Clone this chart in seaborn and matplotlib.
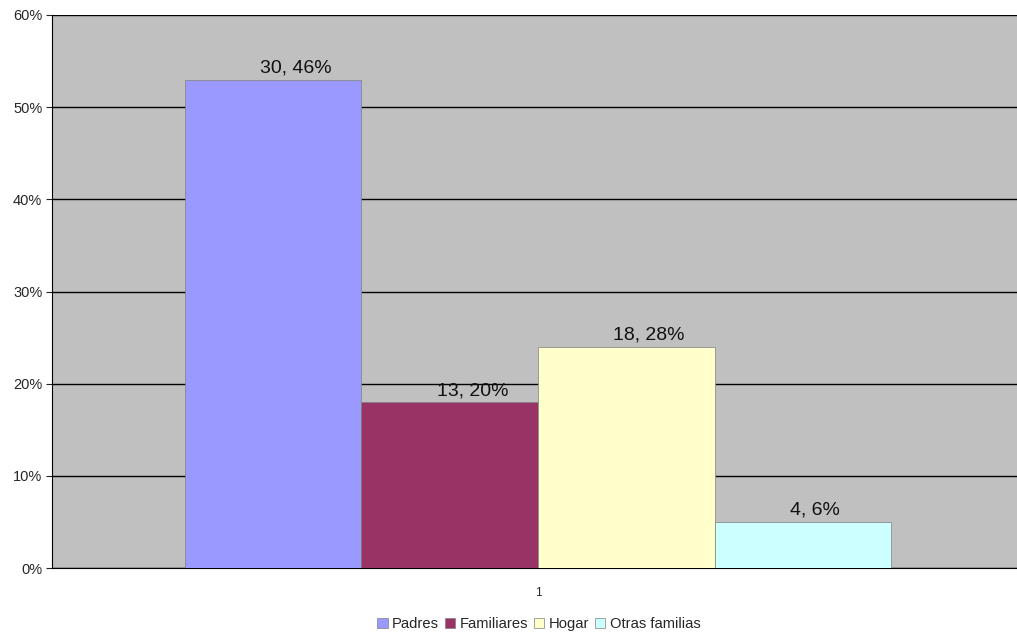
import matplotlib
matplotlib.use('Agg')
import matplotlib.pyplot as plt
import seaborn as sns
import pandas as pd
from matplotlib.ticker import PercentFormatter

# datos del grafico
categorias = ['Padres', 'Familiares', 'Hogar', 'Otras familias']
porcentajes = [53, 18, 24, 5]
etiquetas = ['30, 46%', '13, 20%', '18, 28%', '4, 6%']
colores = ['#9999FF', '#993366', '#FFFFCC', '#CCFFFF']
grupo = ['1'] * 4

df = pd.DataFrame({'grupo': grupo, 'categoria': categorias, 'valor': porcentajes})

sns.set_style('white')
plt.rcParams['font.family'] = ['Liberation Sans', 'DejaVu Sans']

fig = plt.figure(figsize=(10.17, 6.35), dpi=100)
ax = fig.add_axes([52 / 1017, 1 - 568 / 635, 972 / 1017, 553 / 635])
ax.set_facecolor('#C0C0C0')

sns.barplot(data=df, x='grupo', y='valor', hue='categoria', hue_order=categorias,
            palette=colores, width=0.727, saturation=1, ax=ax, legend=False,
            edgecolor='#808080', linewidth=0.5, zorder=3)

# etiquetas sobre las barras (un poco corridas a la derecha, como en Excel)
for barra, texto in zip(ax.patches, etiquetas):
    ax.annotate(texto, (barra.get_x() + barra.get_width() / 2, barra.get_height()),
                xytext=(-13, 3), textcoords='offset pixels',
                ha='left', va='bottom', fontsize=14, color='#111111', zorder=4)

ax.set_ylim(0, 60)
ax.set_xlim(-0.5, 0.5)
ax.set_yticks(range(0, 61, 10))
ax.yaxis.set_major_formatter(PercentFormatter(decimals=0))
ax.yaxis.grid(True, color='black', linewidth=1)
ax.set_axisbelow(True)
ax.tick_params(axis='y', labelsize=10.5, length=4, direction='out', left=True, pad=3)
ax.tick_params(axis='x', labelsize=8.5, length=0, pad=14)
ax.set_xlabel('')
ax.set_ylabel('')
for lado in ['top', 'right']:
    ax.spines[lado].set_visible(False)
ax.spines['left'].set_color('black')
ax.spines['bottom'].set_color('black')

# leyenda
handles = [plt.Rectangle((0, 0), 1, 1, facecolor=c, edgecolor='#808080', linewidth=0.5)
           for c in colores]
fig.legend(handles, categorias, loc='center', bbox_to_anchor=(539 / 1017, 1 - 624 / 635),
           ncol=4, frameon=True, fontsize=10.6, handlelength=0.7, handleheight=0.7,
           handletextpad=0.3, columnspacing=0.4, borderpad=0.2, fancybox=False,
           edgecolor='white')

fig.savefig('out.png', dpi=100)
